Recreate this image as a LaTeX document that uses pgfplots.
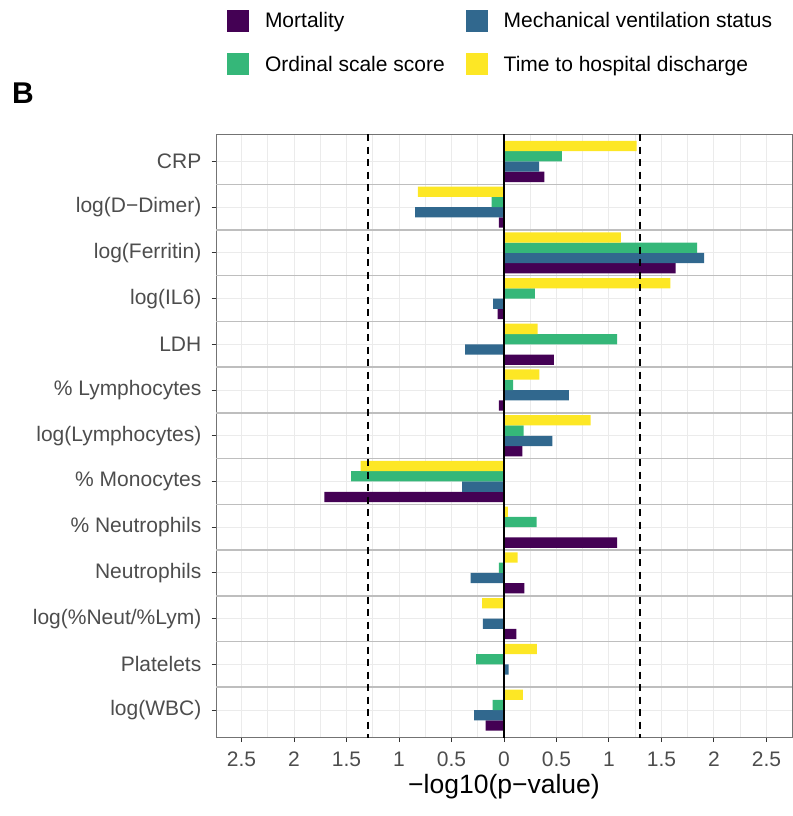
\documentclass[border=0pt]{standalone}
\usepackage{pgfplots}
\usepackage{pgfplotstable}
\pgfplotsset{compat=1.18}
\usepackage{fontspec}
\setmainfont{Liberation Sans}
\definecolor{cMort}{HTML}{440154}
\definecolor{cMech}{HTML}{31688E}
\definecolor{cOrd}{HTML}{35B779}
\definecolor{cTime}{HTML}{FDE725}
\definecolor{tickgray}{HTML}{4D4D4D}
\definecolor{gridgray}{HTML}{EBEBEB}
\definecolor{sepgray}{HTML}{BEBEBE}
\pgfplotsset{sqleg/.style={legend image code/.code={\fill[##1] (0bp,-11bp) rectangle (22bp,11bp);}}}

\pgfplotstableread{
idx mort mech ord time
0 0.385 0.335 0.551 1.264
1 -0.050 -0.846 -0.119 -0.821
2 1.635 1.905 1.840 1.113
3 -0.061 -0.104 0.295 1.584
4 0.475 -0.371 1.077 0.320
5 -0.050 0.619 0.086 0.338
6 0.176 0.461 0.187 0.825
7 -1.710 -0.400 -1.455 -1.365
8 1.077 -0.008 0.310 0.036
9 0.194 -0.317 -0.050 0.130
10 0.119 -0.202 0 -0.209
11 0 0.043 -0.266 0.313
12 -0.176 -0.284 -0.108 0.180
}\datatable

\begin{document}
\begin{tikzpicture}
\useasboundingbox (0,0) rectangle (793bp,816bp);
\node[anchor=base west, inner sep=0pt, font=\fontsize{30bp}{36bp}\selectfont\bfseries] at (12bp,712bp) {B};
\begin{axis}[
  at={(216bp,78.5bp)}, anchor=south west,
  scale only axis, width=576bp, height=603.5bp,
  xmin=-2.743, xmax=2.743, ymin=-0.6, ymax=12.6, y dir=reverse,
  xbar, bar width=0.225,
  xtick={-2.5,-2,-1.5,-1,-0.5,0,0.5,1,1.5,2,2.5},
  xticklabels={2.5,2,1.5,1,0.5,0,0.5,1,1.5,2,2.5},
  minor xtick={-2.25,-1.75,-1.25,-0.75,-0.25,0.25,0.75,1.25,1.75,2.25},
  ytick={0,1,...,12},
  yticklabels={CRP,log(D−Dimer),log(Ferritin),log(IL6),LDH,\% Lymphocytes,log(Lymphocytes),\% Monocytes,\% Neutrophils,Neutrophils,log(\%Neut/\%Lym),Platelets,log(WBC)},
  extra y ticks={0.5,1.5,...,11.5},
  extra y tick labels={},
  extra y tick style={grid=major, major grid style={sepgray, line width=1.5bp}, major tick length=0pt},
  xmajorgrids, xminorgrids, ymajorgrids,
  major grid style={gridgray, line width=1bp},
  minor grid style={gridgray, line width=0.8bp},
  tick align=outside, major tick length=4.5bp, minor tick length=0pt,
  tick style={black!80, line width=1bp},
  xtick pos=bottom, ytick pos=left,
  axis line style={black!55, line width=1bp},
  xticklabel style={font=\fontsize{21bp}{25bp}\selectfont, text=tickgray, inner sep=0pt, anchor=north, yshift=-10bp},
  yticklabel style={font=\fontsize{21bp}{25bp}\selectfont, text=tickgray, inner sep=0pt, anchor=east, xshift=-10bp},
  xlabel={−log10(p−value)},
  xlabel style={font=\fontsize{26.5bp}{32bp}\selectfont, at={(axis description cs:0.5,0)}, anchor=base, inner sep=0pt, yshift=-56bp},
  legend columns=2,
  legend cell align=left,
  legend style={at={(rel axis cs:0,1)}, anchor=north west, xshift=11bp, yshift=124bp,
    draw=none, fill=none, inner sep=0pt, outer sep=0pt, row sep=21.5bp,
    nodes={inner sep=0pt, font=\fontsize{21bp}{25bp}\selectfont, text=black},
    /tikz/every odd column/.append style={column sep=16bp},
    /tikz/every even column/.append style={column sep=21bp}},
]
\addplot[fill=cMort, draw=none, bar shift=0.3375, sqleg] table[x=mort, y=idx] {\datatable};
\addlegendentry{Mortality}
\addplot[fill=cMech, draw=none, bar shift=0.1125, sqleg] table[x=mech, y=idx] {\datatable};
\addlegendentry{Mechanical ventilation status}
\addplot[fill=cOrd, draw=none, bar shift=-0.1125, sqleg] table[x=ord, y=idx] {\datatable};
\addlegendentry{Ordinal scale score}
\addplot[fill=cTime, draw=none, bar shift=-0.3375, sqleg] table[x=time, y=idx] {\datatable};
\addlegendentry{Time to hospital discharge}
\draw[black, line width=2bp, dash pattern=on 7bp off 5.5bp] (axis cs:1.3,-0.6) -- (axis cs:1.3,12.6);
\draw[black, line width=2bp, dash pattern=on 7bp off 5.5bp] (axis cs:-1.3,-0.6) -- (axis cs:-1.3,12.6);
\draw[black, line width=1.1bp] (axis cs:0,-0.6) -- (axis cs:0,12.6);
\end{axis}
\end{tikzpicture}
\end{document}
